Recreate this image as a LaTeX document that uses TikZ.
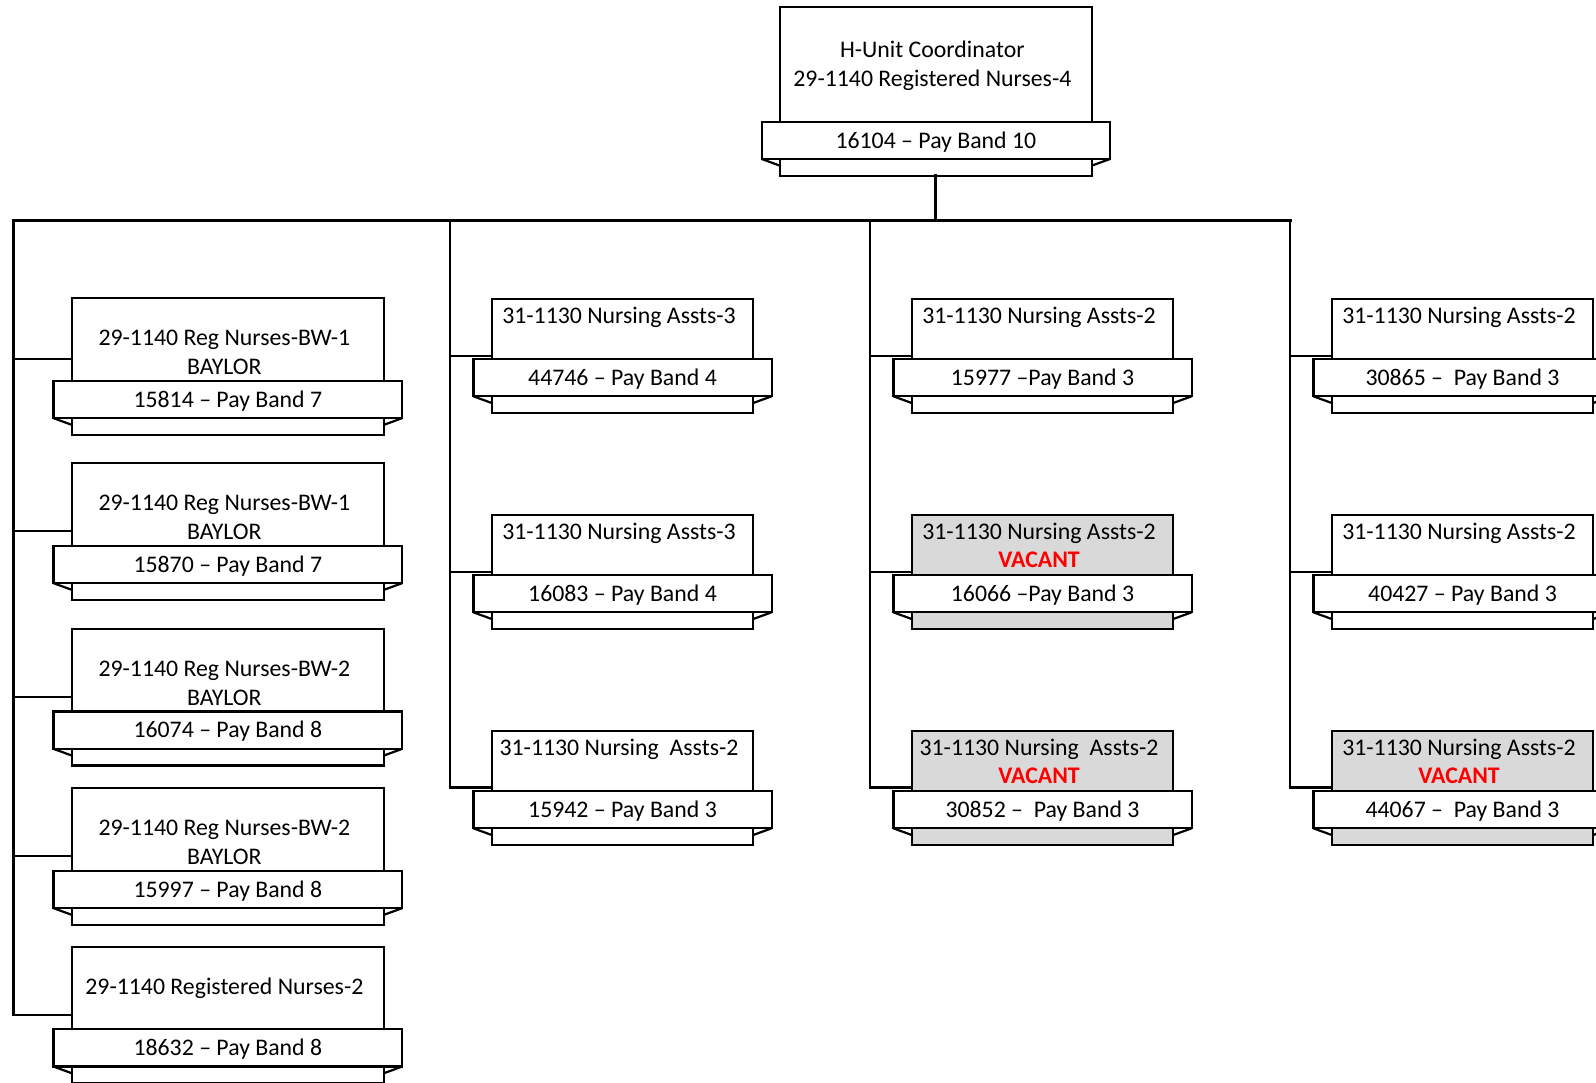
\documentclass[tikz,border=0pt]{standalone}
\usepackage{fontspec}
\setmainfont{Carlito}
\usetikzlibrary{calc}
\definecolor{vacgrey}{RGB}{217,217,217}
\definecolor{vacred}{RGB}{255,0,0}
\tikzset{
  boxshape/.style={draw=black, line width=2.2pt, rectangle, inner sep=0pt, outer sep=0pt},
  ribbonshape/.style={draw=black, fill=white, line width=2.2pt, rectangle, inner sep=0pt, outer sep=0pt,
     minimum height=37.3pt, text height=15.3pt, text depth=0pt, font=\fontsize{23.8}{28.8}\selectfont},
  foldline/.style={draw=black, line width=2.2pt},
  txt/.style={inner sep=0pt, outer sep=0pt, font=\fontsize{23.8}{28.8}\selectfont},
  vactxt/.style={txt, text=vacred, font=\fontsize{23.8}{28.8}\selectfont\bfseries},
  busline/.style={draw=black, line width=3.2pt, line cap=rect},
  colline/.style={draw=black, line width=2.8pt},
  branchline/.style={draw=black, line width=2.4pt},
}
% #1 name, #2 x left, #3 y top (down), #4 upper width, #5 upper height, #6 fill, #7 ribbon text
\newcommand{\OrgBox}[7]{%
  \node[boxshape, fill=#6, minimum width=#4pt, minimum height=#5pt+54pt, anchor=north west] (#1) at (#2,-#3) {};
  \node[ribbonshape, minimum width=#4pt+36.6pt, anchor=north] (#1r) at ([yshift=-#5pt]#1.north) {#7};
  \draw[foldline] (#1r.south west) -- ++(18.3pt,-6.7pt);
  \draw[foldline] (#1r.south east) -- ++(-18.3pt,-6.7pt);
}
% #1 box name, #2 suffix, #3 baseline offset from top, #4 text, #5 style
\newcommand{\BoxText}[5]{%
  \node[#5, anchor=base] (#1#2) at ([xshift=-3.5pt,yshift=-#3pt]#1.north) {#4};
}
\begin{document}
\begin{tikzpicture}[x=1pt,y=1pt]
\path[use as bounding box] (0,0) rectangle (1596,-1082);
\begin{scope}
\clip (0,0) rectangle (1596,-1082);
\fill[white] (0,0) rectangle (1596,-1082);

% top box
\OrgBox{top}{780}{7.3}{311.7}{114.4}{white}{16104 – Pay Band 10}
\BoxText{top}{a}{50.3}{H-Unit Coordinator}{txt}
\BoxText{top}{b}{78.8}{29-1140 Registered Nurses-4}{txt}

% column 1
\OrgBox{c11}{71.7}{298.3}{312.3}{82.5}{white}{15814 – Pay Band 7}
\BoxText{c11}{a}{47.2}{29-1140 Reg Nurses-BW-1}{txt}
\BoxText{c11}{b}{76}{BAYLOR}{txt}
\OrgBox{c12}{71.7}{463.3}{312.3}{82.5}{white}{15870 – Pay Band 7}
\BoxText{c12}{a}{47.2}{29-1140 Reg Nurses-BW-1}{txt}
\BoxText{c12}{b}{76}{BAYLOR}{txt}
\OrgBox{c13}{71.7}{629}{312.3}{82.5}{white}{16074 – Pay Band 8}
\BoxText{c13}{a}{47.2}{29-1140 Reg Nurses-BW-2}{txt}
\BoxText{c13}{b}{76}{BAYLOR}{txt}
\OrgBox{c14}{71.7}{788.3}{312.3}{82.5}{white}{15997 – Pay Band 8}
\BoxText{c14}{a}{47.2}{29-1140 Reg Nurses-BW-2}{txt}
\BoxText{c14}{b}{76}{BAYLOR}{txt}
\OrgBox{c15}{71.7}{946.7}{312.3}{82.5}{white}{18632 – Pay Band 8}
\BoxText{c15}{a}{47.3}{29-1140 Registered Nurses-2}{txt}

% column 2
\OrgBox{c21}{491.7}{299}{261.6}{60}{white}{44746 – Pay Band 4}
\BoxText{c21}{a}{24.2}{31-1130 Nursing Assts-3}{txt}
\OrgBox{c22}{491.7}{515}{261.6}{60}{white}{16083 – Pay Band 4}
\BoxText{c22}{a}{24.2}{31-1130 Nursing Assts-3}{txt}
\OrgBox{c23}{491.7}{731}{261.6}{60}{white}{15942 – Pay Band 3}
\BoxText{c23}{a}{24.2}{31-1130 Nursing~ Assts-2}{txt}

% column 3
\OrgBox{c31}{911.7}{299}{261.6}{60}{white}{15977 –Pay Band 3}
\BoxText{c31}{a}{24.2}{31-1130 Nursing Assts-2}{txt}
\OrgBox{c32}{911.7}{515}{261.6}{60}{vacgrey}{16066 –Pay Band 3}
\BoxText{c32}{a}{24.2}{31-1130 Nursing Assts-2}{txt}
\BoxText{c32}{v}{52.9}{VACANT}{vactxt}
\OrgBox{c33}{911.7}{731}{261.6}{60}{vacgrey}{30852 –~ Pay Band 3}
\BoxText{c33}{a}{24.2}{31-1130 Nursing~ Assts-2}{txt}
\BoxText{c33}{v}{52.9}{VACANT}{vactxt}

% column 4
\OrgBox{c41}{1331.7}{299}{261.6}{60}{white}{30865 –~ Pay Band 3}
\BoxText{c41}{a}{24.2}{31-1130 Nursing Assts-2}{txt}
\OrgBox{c42}{1331.7}{515}{261.6}{60}{white}{40427 – Pay Band 3}
\BoxText{c42}{a}{24.2}{31-1130 Nursing Assts-2}{txt}
\OrgBox{c43}{1331.7}{731}{261.6}{60}{vacgrey}{44067 –~ Pay Band 3}
\BoxText{c43}{a}{24.2}{31-1130 Nursing Assts-2}{txt}
\BoxText{c43}{v}{52.9}{VACANT}{vactxt}

% connectors
\coordinate (bus1) at (13.3,-220.5);
\coordinate (bus2) at (450,-220.5);
\coordinate (bus3) at (870,-220.5);
\coordinate (bus4) at (1290,-220.5);

\coordinate (j11) at ([yshift=-60.7pt]c11.north west);
\coordinate (j12) at ([yshift=-67.7pt]c12.north west);
\coordinate (j13) at ([yshift=-68pt]c13.north west);
\coordinate (j14) at ([yshift=-67.7pt]c14.north west);
\coordinate (j15) at ([yshift=-68.3pt]c15.north west);
\foreach \c in {2,3,4}{
  \foreach \r in {1,2,3}{
    \coordinate (j\c\r) at ([yshift=-56.7pt]c\c\r.north west);
  }
}

\draw[colline] (bus1) -- (bus1 |- j15) -- (j15);
\draw[colline] (bus2) -- (bus2 |- j23) -- (j23);
\draw[colline] (bus3) -- (bus3 |- j33) -- (j33);
\draw[colline] (bus4) -- (bus4 |- j43) -- (j43);
\foreach \j in {11,12,13,14}{ \draw[branchline] (j\j) -- (bus1 |- j\j); }
\foreach \j in {21,22}{ \draw[branchline] (j\j) -- (bus2 |- j\j); }
\foreach \j in {31,32}{ \draw[branchline] (j\j) -- (bus3 |- j\j); }
\foreach \j in {41,42}{ \draw[branchline] (j\j) -- (bus4 |- j\j); }

\draw[busline] (top.south) -- (top.south |- bus1);
\draw[busline] (bus1) -- (bus4);
\end{scope}
\end{tikzpicture}
\end{document}
